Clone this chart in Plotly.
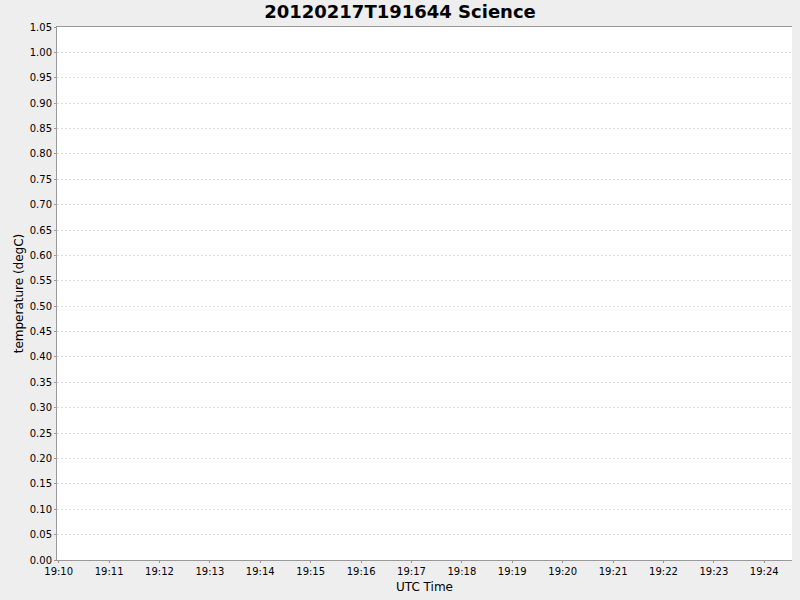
import plotly.graph_objects as go

# no samples recorded in this window - the plot is empty
times = []
temps = []

x_start = "2012-02-17 19:09:58"
x_end = "2012-02-17 19:24:33"
y_ticks = [i * 0.05 for i in range(22)]
y_labels = ["%.2f" % v for v in y_ticks]

fig = go.Figure()
fig.add_trace(go.Scatter(x=times, y=temps, mode="lines", line=dict(color="red")))

fig.update_layout(
    width=800, height=600,
    paper_bgcolor="#EEEEEE", plot_bgcolor="white",
    showlegend=False,
    font=dict(family="DejaVu Sans", color="black"),
    title=dict(text="<b>20120217T191644 Science</b>", x=0.5, xanchor="center",
               y=0.98, yanchor="middle", font=dict(size=18, color="black")),
    margin=dict(l=57, r=8, t=27, b=40),
)
fig.update_xaxes(
    type="date", range=[x_start, x_end], dtick=60000, tick0="2012-02-17 19:10:00",
    tickformat="%H:%M", showgrid=False, zeroline=False,
    showline=True, linecolor="#999999", linewidth=1, mirror=True,
    ticks="outside", ticklen=2, tickcolor="#999999", tickfont=dict(size=10),
    title=dict(text="UTC Time", font=dict(size=12), standoff=6),
)
fig.update_yaxes(
    range=[0, 1.05], tickvals=y_ticks, ticktext=y_labels,
    showgrid=True, gridcolor="#DDDDDD", griddash="2px,2px", gridwidth=1, zeroline=False,
    showline=True, linecolor="#999999", linewidth=1,
    ticks="outside", ticklen=2, tickcolor="#999999", tickfont=dict(size=10),
    title=dict(text="temperature (degC)", font=dict(size=12), standoff=3),
)

# drop the browser's default page margin so the chart sits at 0,0
fig.write_html("out.html", config={"displayModeBar": False},
               post_script="document.body.style.margin='0';document.body.style.overflow='hidden';")
